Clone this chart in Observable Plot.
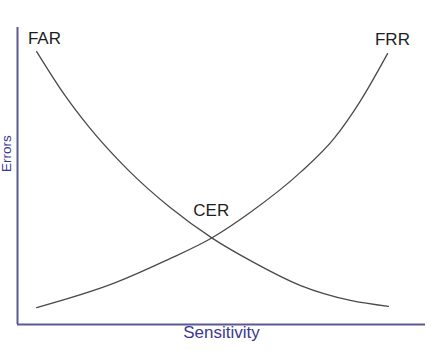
<!DOCTYPE html>
<html>
<head>
<meta charset="utf-8">
<script src="https://cdn.jsdelivr.net/npm/d3@7"></script>
<script src="https://cdn.jsdelivr.net/npm/@observablehq/plot@0.6"></script>
<style>
  html, body { margin: 0; padding: 0; background: #fff; }
  #chart svg { display: block; }
</style>
</head>
<body>
<div id="chart"></div>
<script>
// Sensitivity (x) and error level (y), 0–100 units
const farX = [4.7, 11.5, 17.4, 27.2, 37.5, 47.8, 57.1, 69.4, 81.6, 90.9];
const farY = [91.9, 77.4, 66.7, 51.9, 39.3, 29.0, 21.5, 13.1, 8.1, 6.1];
const frrX = [4.7, 24.0, 36.3, 47.8, 57.1, 69.4, 77.5, 84.1, 90.7];
const frrY = [5.7, 14.1, 21.5, 29.3, 37.8, 51.3, 62.5, 75.4, 91.2];

const labelNames = ["FAR", "FRR", "CER"];
const labelX = [6.6, 91.9, 47.5];
const labelY = [96.3, 96.0, 38.4];

const xTitle = "Sensitivity";
const yTitle = "Errors";

const far = farX.map((x, i) => ({x, y: farY[i]}));
const frr = frrX.map((x, i) => ({x, y: frrY[i]}));
const labels = labelNames.map((t, i) => ({t, x: labelX[i], y: labelY[i]}));

const axisColor = "#5b5894";
const titleColor = "#3a3896";

const chart = Plot.plot({
  width: 443,
  height: 355,
  marginLeft: 17,
  marginRight: 18,
  marginTop: 27,
  marginBottom: 31,
  style: {fontFamily: "'Liberation Sans', Arial, sans-serif", background: "#fff"},
  x: {domain: [0, 100], axis: null},
  y: {domain: [0, 100], axis: null},
  marks: [
    Plot.line(far, {x: "x", y: "y", curve: "monotone-x", stroke: "#4a4a4a", strokeWidth: 1.3}),
    Plot.line(frr, {x: "x", y: "y", curve: "monotone-x", stroke: "#4a4a4a", strokeWidth: 1.3}),
    Plot.ruleX([0], {stroke: axisColor, strokeWidth: 2}),
    Plot.ruleY([0], {stroke: axisColor, strokeWidth: 2}),
    Plot.text(labels, {x: "x", y: "y", text: "t", fontSize: 17, fill: "#1e1e1e"}),
    Plot.text([xTitle], {frameAnchor: "bottom", dy: 13, fontSize: 17, fill: titleColor}),
    Plot.text([yTitle], {frameAnchor: "left", rotate: -90, dx: -11, dy: -4, fontSize: 13.5, fill: titleColor})
  ]
});
document.getElementById("chart").appendChild(chart);
</script>
</body>
</html>
